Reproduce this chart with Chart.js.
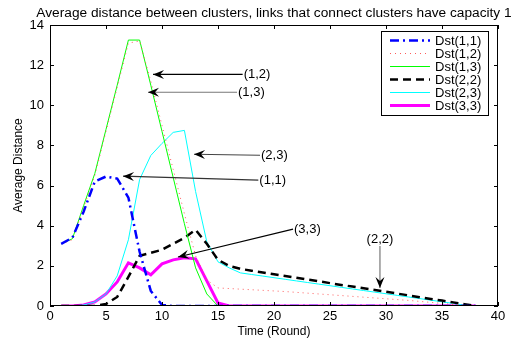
<!DOCTYPE html>
<html>
<head>
<meta charset="utf-8">
<script src="https://cdn.jsdelivr.net/npm/chart.js@4.4.0/dist/chart.umd.min.js"></script>
<style>
  html, body { margin: 0; padding: 0; background: #fff; }
</style>
</head>
<body>
<canvas id="chart" width="511" height="339"></canvas>
<script>
const runden = [1,2,3,4,5,6,7,8,9,10,11,12,13,14,15,16,17,18,19,20,21,22,23,24,25,26,27,28,29,30,31,32,33,34,35,36,37,38];

const dst11 = [3.1,3.4,4.7,6.2,6.45,6.35,5.4,2.7,0.75,0.05,0,0,0,0,0,0,0,0,0,0,0,0,0,0,0,0,0,0,0,0,0,0,0,0,0,0,0,0];
const dst12 = [3.1,3.3,4.9,6.5,8.7,10.9,13.1,13.2,11.2,9.0,6.8,4.6,2.5,1.3,0.9,0.87,0.84,0.81,0.78,0.75,0.72,0.68,0.64,0.6,0.56,0.52,0.48,0.44,0.4,0.36,0.32,0.28,0.23,0.18,0.13,0.08,0.04,0];
const dst13 = [3.1,3.35,5.0,6.6,8.8,11.0,13.25,13.25,11.0,8.7,6.4,4.1,1.9,0.6,0,0,0,0,0,0,0,0,0,0,0,0,0,0,0,0,0,0,0,0,0,0,0,0];
const dst22 = [0,0,0,0,0.1,0.45,1.45,2.5,2.65,2.8,3.1,3.4,3.8,3.1,2.3,2.0,1.85,1.76,1.67,1.58,1.5,1.41,1.32,1.23,1.14,1.05,0.97,0.88,0.8,0.71,0.62,0.53,0.44,0.35,0.27,0.18,0.09,0];
const dst23 = [0,0,0.05,0.2,0.6,1.5,3.3,6.3,7.5,8.1,8.65,8.75,5.7,3.2,2.2,1.9,1.65,1.57,1.49,1.41,1.33,1.25,1.17,1.09,1.01,0.93,0.85,0.77,0.69,0.61,0.53,0.45,0.37,0.29,0.21,0.13,0.04,0];
const dst33 = [0,0,0.05,0.2,0.6,1.2,2.15,1.9,1.55,2.1,2.3,2.4,2.35,1.25,0.15,0,0,0,0,0,0,0,0,0,0,0,0,0,0,0,0,0,0,0,0,0,0,0];

const xTicks = [0,5,10,15,20,25,30,35,40];
const yTicks = [0,2,4,6,8,10,12,14];

// Beschriftungen mit Pfeil (Datenkoordinaten)
const pfeilText = ['(1,2)','(1,3)','(2,3)','(1,1)','(3,3)','(2,2)'];
const pfeilVonX = [17.2, 16.7, 18.75, 18.6, 21.7, 29.46];
const pfeilVonY = [11.54, 10.65, 7.51, 6.27, 3.83, 2.99];
const pfeilZuX  = [9.2, 8.75, 12.86, 6.52, 11.43, 29.46];
const pfeilZuY  = [11.54, 10.65, 7.56, 6.47, 2.44, 0.9];
const pfeilFarbe = ['#000','#777','#444','#333','#000','#777'];

const serien = [
  { label: 'Dst(1,1)', data: dst11, color: '#0000ff', width: 2.5, dash: [9,4,2,4] },
  { label: 'Dst(1,2)', data: dst12, color: '#ff5a5a', width: 1, dash: [1,4] },
  { label: 'Dst(1,3)', data: dst13, color: '#00ff00', width: 1, dash: [] },
  { label: 'Dst(2,2)', data: dst22, color: '#000000', width: 2.5, dash: [8,5] },
  { label: 'Dst(2,3)', data: dst23, color: '#00ffff', width: 1, dash: [] },
  { label: 'Dst(3,3)', data: dst33, color: '#ff00ff', width: 3, dash: [] }
];

const FONT = 'Liberation Sans, Arial, Helvetica, sans-serif';

const matlabPlugin = {
  id: 'matlab',
  afterDatasetsDraw(chart) {
    const ctx = chart.ctx;
    const a = chart.chartArea;
    const xs = chart.scales.x, ys = chart.scales.y;
    ctx.save();

    // Rahmen und Ticks nach innen
    ctx.strokeStyle = '#000';
    ctx.lineWidth = 1;
    ctx.setLineDash([]);
    ctx.strokeRect(a.left + 0.5, a.top + 0.5, a.right - a.left - 1, a.bottom - a.top - 1);
    ctx.beginPath();
    xTicks.forEach(v => {
      const px = Math.round(xs.getPixelForValue(v)) + 0.5;
      ctx.moveTo(px, a.bottom); ctx.lineTo(px, a.bottom - 4);
      ctx.moveTo(px, a.top); ctx.lineTo(px, a.top + 4);
    });
    yTicks.forEach(v => {
      const py = Math.round(ys.getPixelForValue(v)) + 0.5;
      ctx.moveTo(a.left, py); ctx.lineTo(a.left + 4, py);
      ctx.moveTo(a.right, py); ctx.lineTo(a.right - 4, py);
    });
    ctx.stroke();

    // Titel
    ctx.fillStyle = '#000';
    ctx.font = '13.7px ' + FONT;
    ctx.textAlign = 'center';
    ctx.textBaseline = 'middle';
    ctx.fillText('Average distance between clusters, links that connect clusters have capacity 1', (a.left + a.right) / 2, 13);

    // Pfeile
    ctx.font = '13px ' + FONT;
    pfeilText.forEach((t, i) => {
      const x0 = xs.getPixelForValue(pfeilVonX[i]), y0 = ys.getPixelForValue(pfeilVonY[i]);
      const x1 = xs.getPixelForValue(pfeilZuX[i]), y1 = ys.getPixelForValue(pfeilZuY[i]);
      ctx.strokeStyle = pfeilFarbe[i];
      ctx.lineWidth = 1.2;
      ctx.beginPath(); ctx.moveTo(x0, y0); ctx.lineTo(x1, y1); ctx.stroke();
      const ang = Math.atan2(y1 - y0, x1 - x0);
      ctx.save();
      ctx.translate(x1, y1); ctx.rotate(ang);
      ctx.fillStyle = '#000';
      ctx.beginPath();
      ctx.moveTo(0, 0); ctx.lineTo(-11, -4.5); ctx.lineTo(-7, 0); ctx.lineTo(-11, 4.5); ctx.closePath();
      ctx.fill();
      ctx.restore();
      ctx.fillStyle = '#000';
      if (i === 5) {
        ctx.textAlign = 'center'; ctx.textBaseline = 'bottom';
        ctx.fillText(t, x0, y0);
      } else {
        ctx.textAlign = 'left'; ctx.textBaseline = 'middle';
        ctx.fillText(t, x0 + 1, y0);
      }
    });

    // Legende
    const lx = 381, ly = 31, lw = 107, lh = 84;
    ctx.fillStyle = '#fff';
    ctx.fillRect(lx, ly, lw, lh);
    ctx.strokeStyle = '#000'; ctx.lineWidth = 1; ctx.setLineDash([]);
    ctx.strokeRect(lx + 0.5, ly + 0.5, lw, lh);
    ctx.font = '13px ' + FONT;
    ctx.textAlign = 'left'; ctx.textBaseline = 'middle';
    serien.forEach((s, i) => {
      const yy = ly + 9.5 + i * 13;
      ctx.strokeStyle = s.color; ctx.lineWidth = s.width; ctx.setLineDash(s.dash);
      ctx.beginPath(); ctx.moveTo(lx + 9, yy); ctx.lineTo(lx + 49, yy); ctx.stroke();
      ctx.setLineDash([]);
      ctx.fillStyle = '#000';
      ctx.fillText(s.label, lx + 54, yy + 1);
    });
    ctx.restore();
  }
};

new Chart(document.getElementById('chart'), {
  type: 'line',
  data: {
    datasets: serien.map(s => ({
      label: s.label,
      data: runden.map((r, i) => ({ x: r, y: s.data[i] })),
      borderColor: s.color,
      borderWidth: s.width,
      borderDash: s.dash,
      pointRadius: 0,
      tension: 0,
      fill: false
    }))
  },
  options: {
    responsive: false,
    animation: false,
    layout: { padding: { left: 0, right: 13, top: 25, bottom: 0 } },
    plugins: { legend: { display: false }, tooltip: { enabled: false }, title: { display: false } },
    scales: {
      x: {
        type: 'linear', min: 0, max: 40,
        afterBuildTicks: sc => { sc.ticks = xTicks.map(v => ({ value: v })); },
        afterFit: sc => { sc.height = 33; },
        grid: { display: false, drawTicks: false },
        border: { display: false },
        ticks: { color: '#000', font: { family: FONT, size: 13 }, padding: 3, maxRotation: 0 },
        title: { display: true, text: 'Time (Round)', color: '#000', font: { family: FONT, size: 12 }, padding: 0 }
      },
      y: {
        type: 'linear', min: 0, max: 14,
        afterBuildTicks: sc => { sc.ticks = yTicks.map(v => ({ value: v })); },
        afterFit: sc => { sc.width = 50; },
        grid: { display: false, drawTicks: false },
        border: { display: false },
        ticks: { color: '#000', font: { family: FONT, size: 13 }, padding: 6 },
        title: { display: true, text: 'Average Distance', color: '#000', font: { family: FONT, size: 12 }, padding: { top: 11, bottom: 0 } }
      }
    }
  },
  plugins: [matlabPlugin]
});
</script>
</body>
</html>
